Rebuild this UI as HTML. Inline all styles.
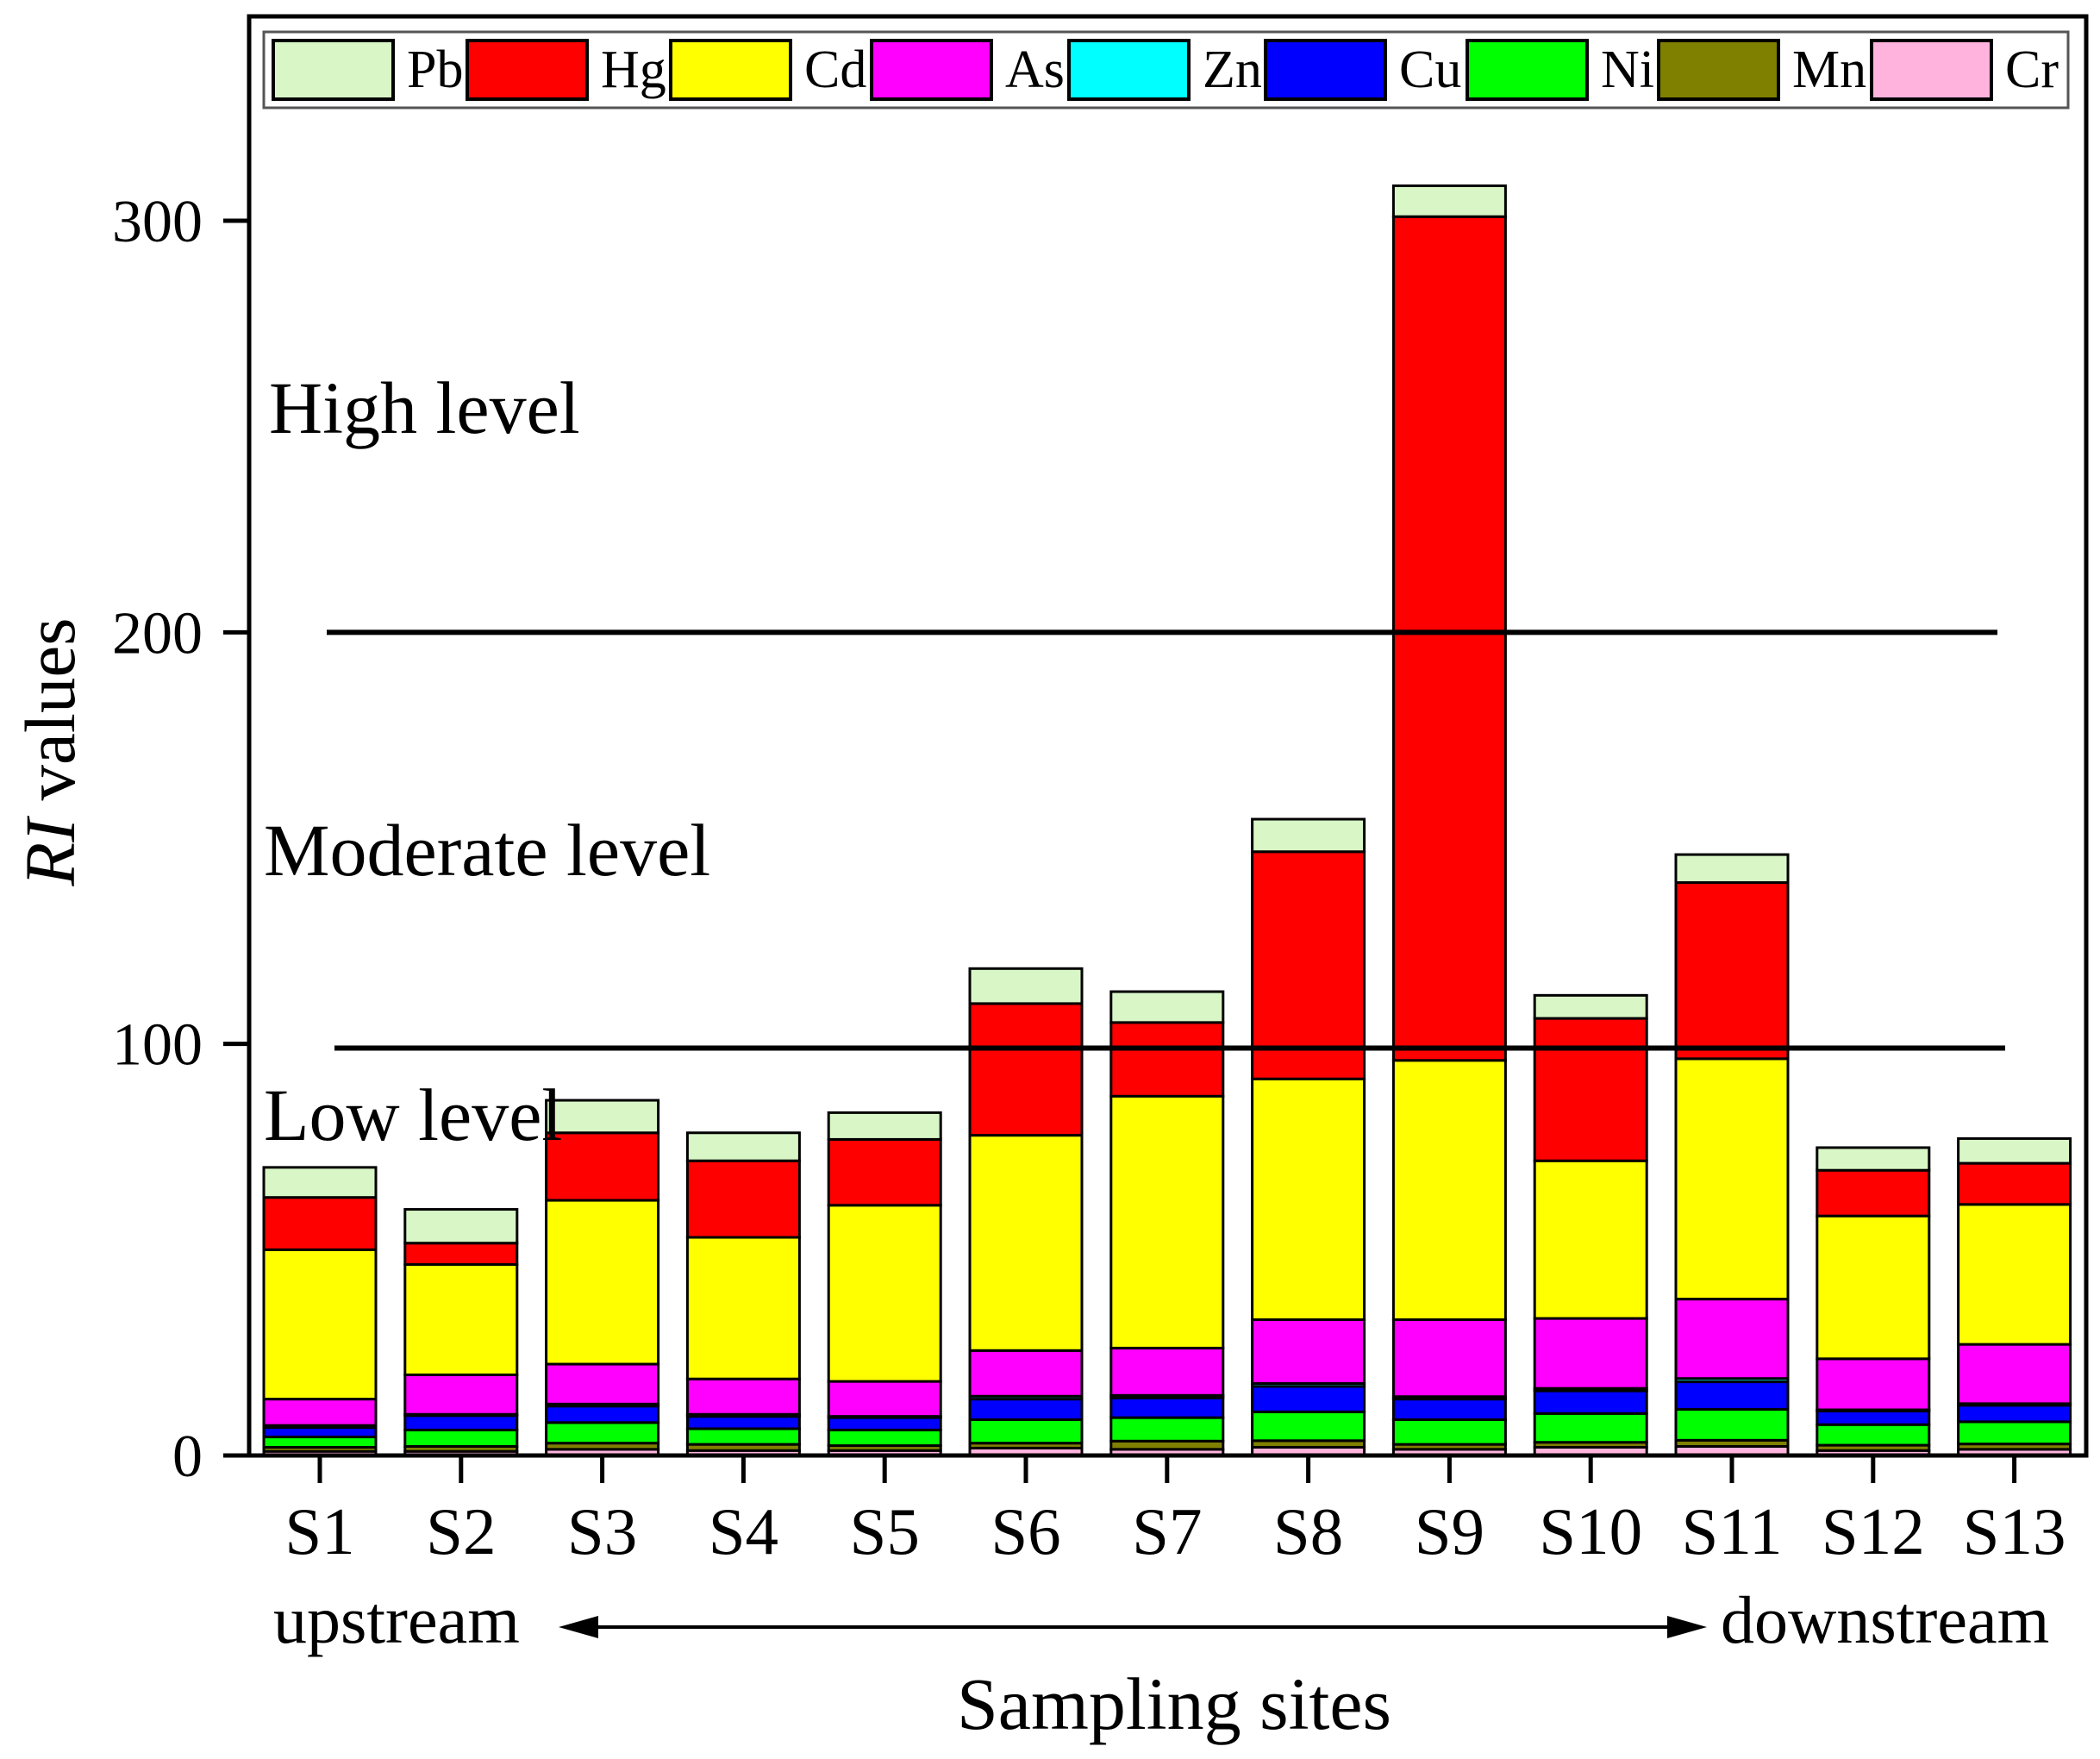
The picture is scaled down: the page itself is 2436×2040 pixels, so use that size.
<!DOCTYPE html>
<html><head><meta charset="utf-8"><style>
html,body{margin:0;padding:0;background:#fff}
svg{display:block;font-family:"Liberation Serif",serif}
</style></head><body>
<svg id="chart" width="2436" height="2040" viewBox="0 0 2436 2040" xmlns="http://www.w3.org/2000/svg">
<g id="bars"></g>
<g id="axes"></g>
</svg>
<script>
const sites=["S1","S2","S3","S4","S5","S6","S7","S8","S9","S10","S11","S12","S13"];
const seriesNames=["Cr","Mn","Ni","Cu","Zn","As","Cd","Hg","Pb"];
const Cr=[1,1,1.5,1.2,1.2,1.8,1.5,2,1.5,2,2.2,1.2,1.5];
const Mn=[1,1.2,1.5,1.5,1.2,1.2,2,1.6,1.2,1.2,1.5,1.3,1.3];
const Ni=[2.5,4,5,3.8,3.8,5.7,5.7,7,6,7,7.5,5,5.4];
const Cu=[2.3,3.5,4,3,3,5,4.8,6.2,5,5.5,6.7,3.3,4];
const Zn=[0.5,0.3,0.5,0.5,0.3,0.7,0.6,0.7,0.6,0.6,0.8,0.3,0.4];
const As=[6.4,9.6,9.7,8.6,8.5,11.1,11.5,15.5,18.7,17,19.3,12.4,14.4];
const Cd=[36.3,26.8,39.8,34.4,42.8,52.3,61.2,58.5,63,38.3,58.4,34.7,34];
const Hg=[12.7,5.2,16.4,18.6,16,32,17.9,55.2,205,34.6,42.8,11.1,10];
const Pb=[7.3,8.2,7.9,6.8,6.5,8.5,7.5,7.9,7.5,5.6,6.8,5.5,6];
const yTicks=[0,100,200,300];
const thresholds=[200,99];

const series=[Cr,Mn,Ni,Cu,Zn,As,Cd,Hg,Pb];
const colors={Cr:"#ffb3dd",Mn:"#808000",Ni:"#00ff00",Cu:"#0000ff",Zn:"#00ffff",As:"#ff00ff",Cd:"#ffff00",Hg:"#ff0000",Pb:"#d9f7c6"};
const NS="http://www.w3.org/2000/svg";
const L=289,R=2420,T=19,B=1688;
function y(v){return B-v*(B-256)/300;}
function x(i){return 371+i*163.8;}
const bw=130;
function mk(tag,attrs,parent){const e=document.createElementNS(NS,tag);for(const k in attrs)e.setAttribute(k,attrs[k]);parent.appendChild(e);return e;}
const gb=document.getElementById('bars'),ga=document.getElementById('axes');
sites.forEach((s,i)=>{
  let cum=0;
  series.forEach((arr,k)=>{
    const v=arr[i];
    const r=mk('rect',{x:x(i)-bw/2,y:y(cum+v),width:bw,height:y(cum)-y(cum+v),fill:colors[seriesNames[k]],stroke:'#000','stroke-width':3},gb);
    
    
    cum+=v;
  });
});
const tl=[[379,2317],[388,2326]];
thresholds.forEach((v,j)=>{
  const l=mk('line',{x1:tl[j][0],x2:tl[j][1],y1:y(v),y2:y(v),stroke:'#000','stroke-width':6},ga);
  
  
});
const fr=mk('rect',{x:L,y:T,width:R-L,height:B-T,fill:'none',stroke:'#000','stroke-width':5},ga);


yTicks.forEach(v=>{
  const t=mk('line',{x1:L-30,x2:L,y1:y(v),y2:y(v),stroke:'#000','stroke-width':5},ga);
  
  
  const tx=mk('text',{x:235,y:y(v)+24,'text-anchor':'end','font-size':70},ga);
  tx.textContent=v;
  
  
});
sites.forEach((s,i)=>{
  const t=mk('line',{x1:x(i),x2:x(i),y1:B,y2:B+32,stroke:'#000','stroke-width':5},ga);
  
  
  const tx=mk('text',{x:x(i),y:1802,'text-anchor':'middle','font-size':77},ga);
  tx.textContent=s;
  
  
});
const lg=mk('g',{},ga);


mk('rect',{x:306,y:37,width:2093,height:88,fill:'#fff',stroke:'#555','stroke-width':3},lg);
const legOrder=["Pb","Hg","Cd","As","Zn","Cu","Ni","Mn","Cr"];
const legX=[317,542,778,1011,1240,1468,1702,1924,2171];
legOrder.forEach((n,j)=>{
  const r=mk('rect',{x:legX[j],y:47,width:139,height:68,fill:colors[n],stroke:'#000','stroke-width':4},lg);
  
  
  const t=mk('text',{x:legX[j]+155,y:101,'font-size':62},lg);
  t.textContent=n;
  
  
});
function txt(s,a,name){const t=mk('text',a,ga);t.textContent=s;return t;}
txt('High level',{x:312,y:502,'font-size':86},'high-level-label');
txt('Moderate level',{x:306,y:1015,'font-size':86},'moderate-level-label');
txt('Low level',{x:306,y:1322,'font-size':86},'low-level-label');
txt('upstream',{x:317,y:1905,'font-size':78},'upstream-label');
txt('downstream',{x:1996,y:1905,'font-size':78},'downstream-label');
txt('Sampling sites',{x:1362,y:2005,'text-anchor':'middle','font-size':86},'x-axis-title');
const yt=mk('text',{transform:'translate(86,872) rotate(-90)','text-anchor':'middle','font-size':83},ga);
yt.innerHTML='<tspan font-style="italic">RI</tspan> values';


const ar=mk('g',{},ga);


mk('line',{x1:690,x2:1940,y1:1887,y2:1887,stroke:'#000','stroke-width':4},ar);
mk('polygon',{points:'648,1887 694,1874 694,1900',fill:'#000'},ar);
mk('polygon',{points:'1980,1887 1934,1874 1934,1900',fill:'#000'},ar);
</script>
</body></html>
